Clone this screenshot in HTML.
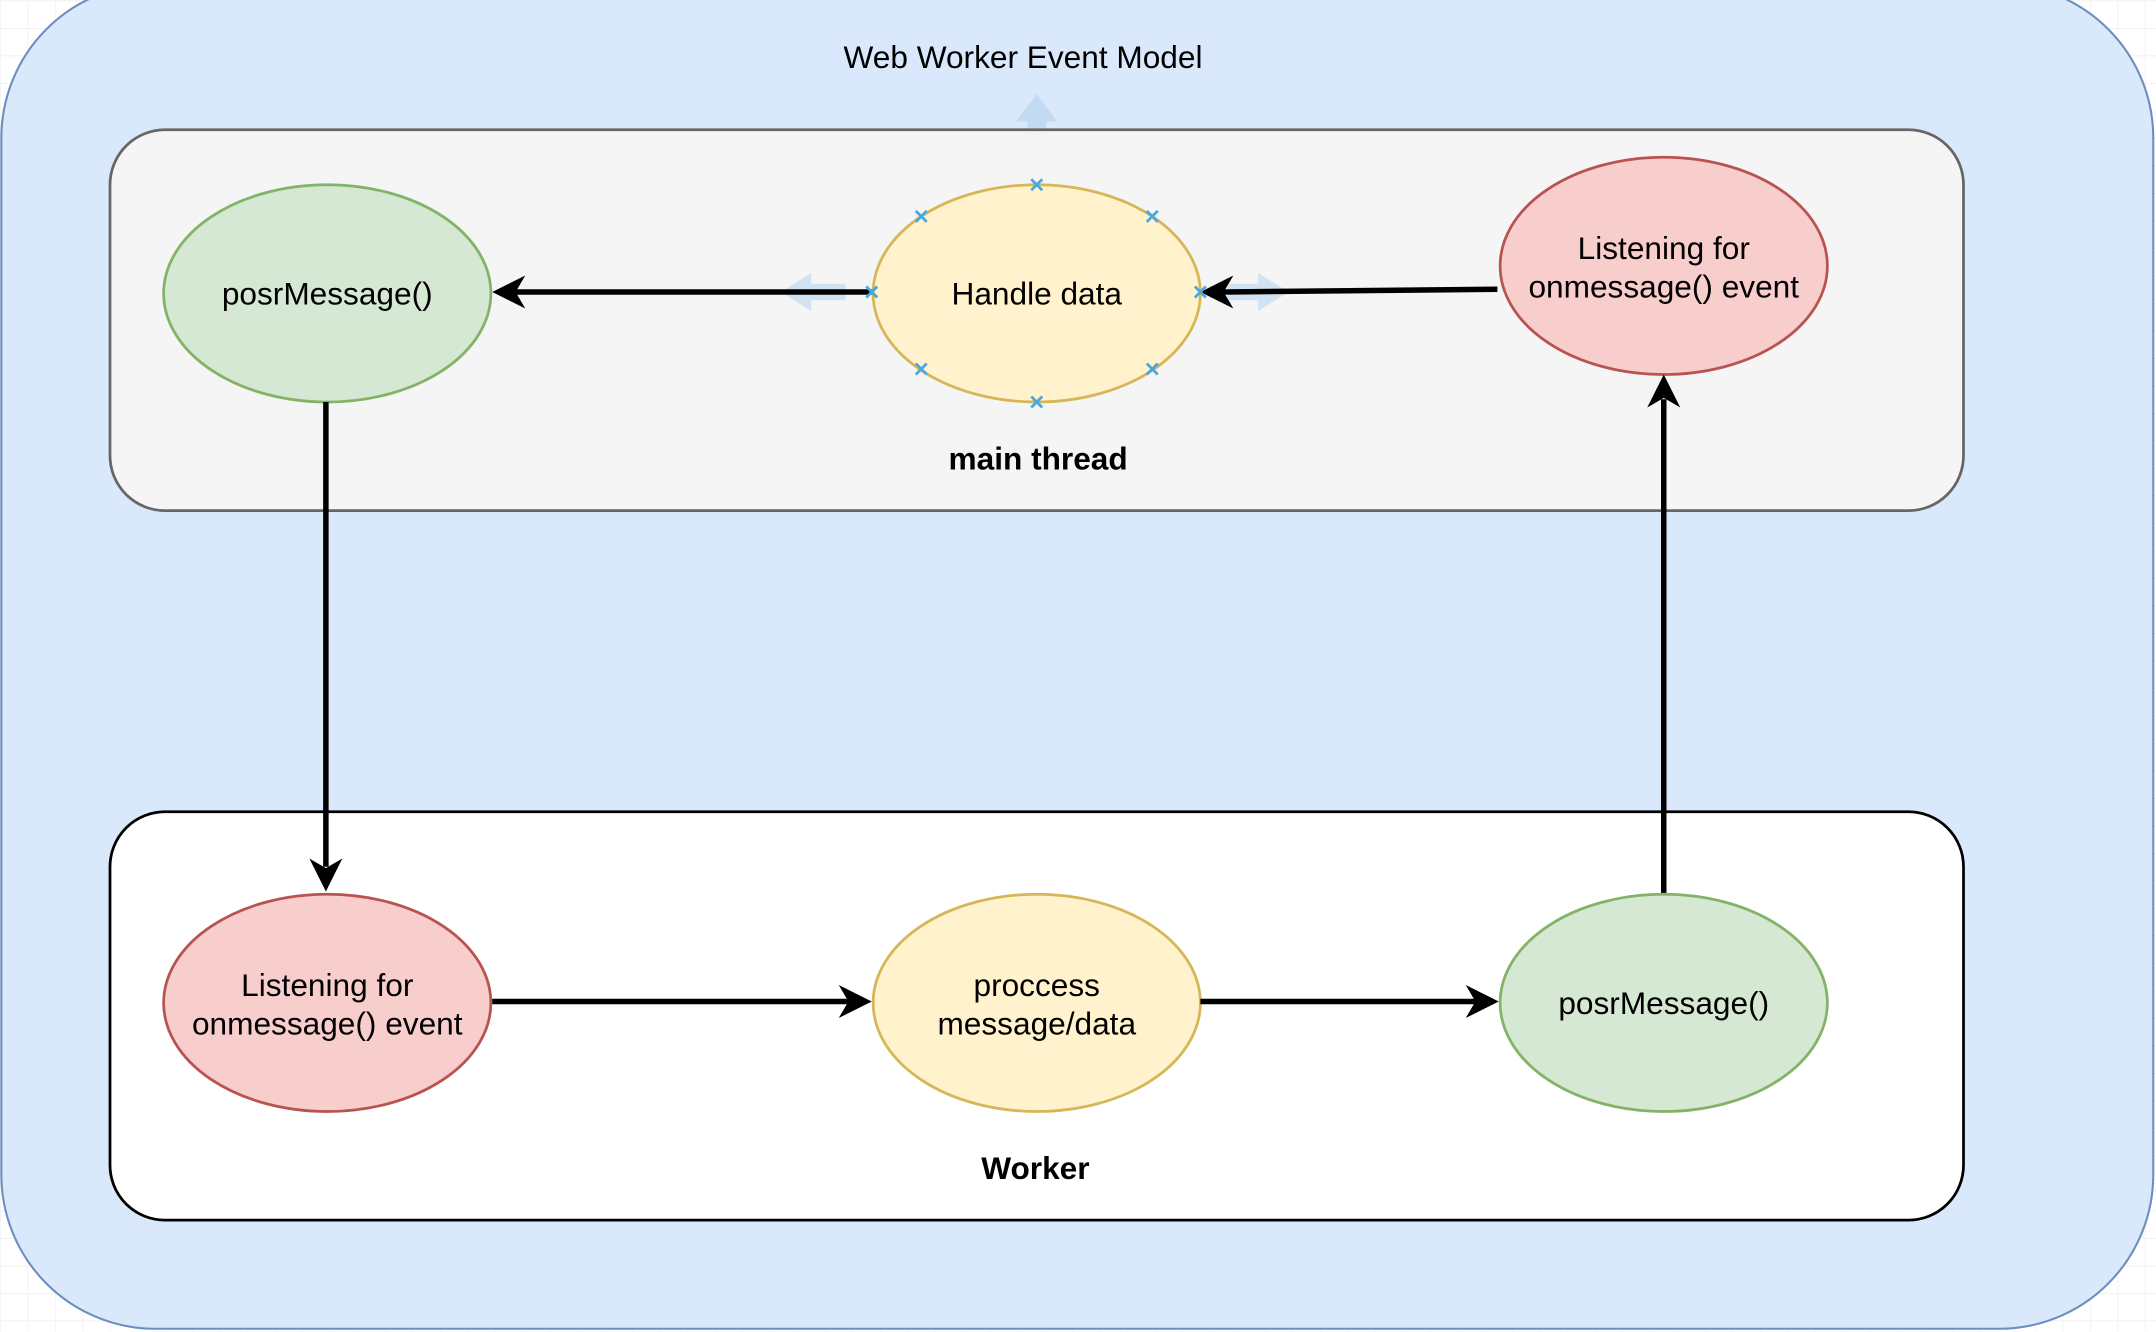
<!DOCTYPE html>
<html><head><meta charset="utf-8"><style>
html,body{margin:0;padding:0;background:#fff;}
svg{display:block;}
text{font-family:"Liberation Sans",Arial,sans-serif;fill:#000;}
</style></head><body>
<svg width="2156" height="1332" viewBox="0 0 1568 968" xmlns="http://www.w3.org/2000/svg">
<defs>
<pattern id="g" width="20" height="20" patternUnits="userSpaceOnUse"><path d="M20 0H0V20" fill="none" stroke="#eeeeee" stroke-width="1"/></pattern>
</defs>
<rect width="1568" height="968" fill="url(#g)"/>
<rect x="1" y="-12" width="1565" height="978" rx="112" fill="#dae8fc" stroke="#6c8ebf" stroke-width="1.5"/>
<text x="744" y="49" font-size="23" text-anchor="middle">Web Worker Event Model</text>
<path d="M747 116V88H739L754 68L769 88H761V116Z" fill="#b9d7f0" opacity="0.75"/>
<rect x="80" y="94" width="1348" height="277" rx="40" fill="#f5f5f5" stroke="#666" stroke-width="2"/>
<rect x="80" y="590" width="1348" height="297" rx="40" fill="#fff" stroke="#000" stroke-width="2"/>
<text x="755" y="341" font-size="23" font-weight="bold" text-anchor="middle">main thread</text>
<text x="753" y="857" font-size="23" font-weight="bold" text-anchor="middle">Worker</text>
<g stroke-width="2">
<ellipse cx="238" cy="213" rx="119" ry="79" fill="#d5e8d4" stroke="#82b366"/>
<ellipse cx="754" cy="213" rx="119" ry="79" fill="#fff2cc" stroke="#d6b656"/>
<ellipse cx="1210" cy="193" rx="119" ry="79" fill="#f8cecc" stroke="#b85450"/>
<ellipse cx="238" cy="729" rx="119" ry="79" fill="#f8cecc" stroke="#b85450"/>
<ellipse cx="754" cy="729" rx="119" ry="79" fill="#fff2cc" stroke="#d6b656"/>
<ellipse cx="1210" cy="729" rx="119" ry="79" fill="#d5e8d4" stroke="#82b366"/>
</g>
<g font-size="23" text-anchor="middle">
<text x="238" y="221">posrMessage()</text>
<text x="754" y="221">Handle data</text>
<text x="1210" y="188">Listening for</text>
<text x="1210" y="216">onmessage() event</text>
<text x="238" y="724">Listening for</text>
<text x="238" y="752">onmessage() event</text>
<text x="754" y="724">proccess</text>
<text x="754" y="752">message/data</text>
<text x="1210" y="737">posrMessage()</text>
</g>
<path d="M615 206H590V198L568 212L590 226V218H615Z" fill="#b9d7f0" opacity="0.6"/>
<path d="M893 206H915V198L937 212L915 226V218H893Z" fill="#b9d7f0" opacity="0.6"/>
<g stroke="#000" stroke-width="4" fill="none">
<path d="M1089 210L890 212"/>
<path d="M634 212L375 212"/>
<path d="M237 292V630"/>
<path d="M358 728H617"/>
<path d="M873 728H1073"/>
<path d="M1210 649V290"/>
</g>
<g fill="#000">
<path d="M873 212L897 200L890 212L897 224Z"/>
<path d="M358 212L382 200L375 212L382 224Z"/>
<path d="M237 648L225 624L237 631L249 624Z"/>
<path d="M634 728L610 716L617 728L610 740Z"/>
<path d="M1090 728L1066 716L1073 728L1066 740Z"/>
<path d="M1210 272L1198 296L1210 289L1222 296Z"/>
</g>
<g stroke="#4aa8e0" stroke-width="2">
<path d="M750 130l8 8M758 130l-8 8"/>
<path d="M750 288l8 8M758 288l-8 8"/>
<path d="M630 208l8 8M638 208l-8 8"/>
<path d="M869 208l8 8M877 208l-8 8"/>
<path d="M666 153l8 8M674 153l-8 8"/>
<path d="M834 153l8 8M842 153l-8 8"/>
<path d="M666 264l8 8M674 264l-8 8"/>
<path d="M834 264l8 8M842 264l-8 8"/>
</g>
</svg>
</body></html>
